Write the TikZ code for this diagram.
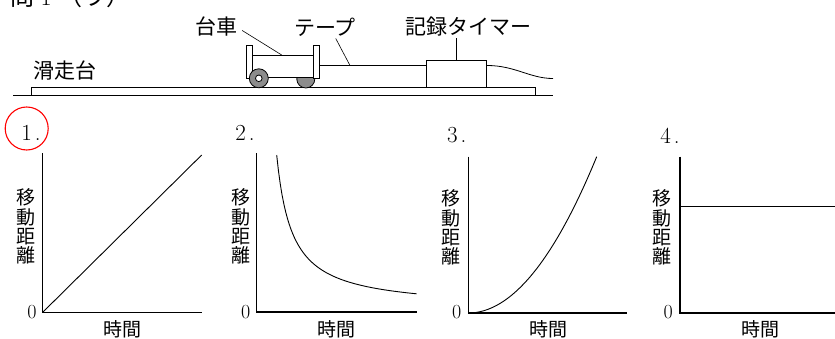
\documentclass[tikz,border=0pt]{standalone}
\usepackage{fontspec}
\newfontfamily\cjk{Noto Sans CJK JP}
\usepackage{tikz}
\usetikzlibrary{calc}
\usetikzlibrary{positioning}
\tikzset{>=latex}
\tikzstyle{lbl} = [inner sep=0pt, font=\cjk\fontsize{21}{21}\selectfont]
\tikzstyle{leader} = [-, line width=0.6pt]
\tikzstyle{part} = [line width=0.8pt, fill=white]
\tikzstyle{wheel} = [line width=0.8pt, fill=black!45]
\tikzstyle{axis} = [-, line width=1.1pt]
\tikzstyle{curve} = [-, line width=0.9pt]
\tikzstyle{ylbl} = [align=center, inner sep=0pt, font=\cjk\fontsize{19}{19.3}\selectfont]
\tikzstyle{xlbl} = [inner sep=0pt, font=\cjk\fontsize{19}{19}\selectfont]
\tikzstyle{num} = [inner sep=0pt, font=\fontsize{23}{23}\selectfont]
\tikzstyle{zero} = [inner sep=0pt, font=\fontsize{20}{20}\selectfont]

\begin{document}
\begin{tikzpicture}[x=1pt, y=-1pt]
\useasboundingbox (0,0) rectangle (835,339);

% heading, cut off at the top
\node [anchor=base west, inner sep=0pt, font=\fontsize{24}{24}\selectfont] (title) at (10,6) {{\cjk 問}\makebox[24pt]{1}{\cjk （ウ）}};

% slide board
\draw [line width=0.8pt] (13,95) -- (553,95);
\draw [line width=0.8pt] (31,95) -- (31,87) -- (535,87) -- (535,95);
\node [lbl] (board) at (65,71) {滑走台};

% cart
\draw [wheel] (305.8,79) circle [radius=9pt];
\draw [part] (252,55) rectangle (313.3,77);
\draw [part] (246.7,45) rectangle (252.3,78);
\draw [part] (313.3,45) rectangle (319,78);
\draw [wheel] (258.8,78.3) circle [radius=9.5pt];
\draw [part] (258.8,78.3) circle [radius=3.3pt];
\coordinate (cartpt) at (281.7,55);
\node [lbl] (cartlbl) at (216,27) {台車};
\draw [leader] ([xshift=5pt,yshift=-3.5pt]cartlbl.east) -- (cartpt);

% tape and timer
\node [part, draw, minimum width=60.7pt, minimum height=27pt, inner sep=0pt] (timer) at (456.3,73.5) {};
\coordinate (tapestart) at (319,65.5);
\coordinate (tapeend) at (553,78.5);
\draw [line width=0.8pt] (tapestart) -- (timer.west |- tapestart);
\draw [line width=0.8pt] (timer.east |- tapestart) .. controls ($(timer.east |- tapestart)+(28,0)$) and ($(tapeend)+(-23,0)$) .. (tapeend);
\coordinate (tapept) at (350,65.5);
\node [lbl] (tapelbl) at (325,27) {テープ};
\draw [leader] ([xshift=10.7pt,yshift=-2pt]tapelbl.south) -- (tapept);
\node [lbl] (timerlbl) at (468,27) {記録タイマー};
\draw [leader] ([yshift=-1.5pt]timerlbl.south -| timer.north) -- (timer.north);

% graph 1
\coordinate (O1) at (42.7,312.3);
\coordinate (Y1) at (42.7,153.5);
\coordinate (X1) at (201.7,312.3);
\coordinate (E1) at (201.7,155);
\draw [axis] (Y1) -- (O1) -- (X1);
\draw [curve] (O1) -- (E1);
\node [num] (num1) at (31,133) {1\hspace{3pt}.};
\node [circle, draw=red, line width=1.1pt, minimum size=43pt, inner sep=0pt] (ring) at (26.7,128.5) {};
\node [ylbl] (dist1) at (25.7,226.5) {移\\動\\距\\離};
\node [zero] (zero1) at (32,312) {0};
\node [xlbl] (time1) at (122.7,329) {時間};

% graph 2
\coordinate (O2) at (256.7,312);
\coordinate (Y2) at (256.7,153.5);
\coordinate (X2) at (416.7,312);
\draw [axis] (Y2) -- (O2) -- (X2);
\draw [curve] plot [domain=20:160, samples=80] ({256.7+\x},{312-3-2359/(\x-4.68)});
\node [num] (num2) at (245,133) {2\hspace{3pt}.};
\node [ylbl] (dist2) at (240.5,226.5) {移\\動\\距\\離};
\node [zero] (zero2) at (245.7,312) {0};
\node [xlbl] (time2) at (336.7,329) {時間};

% graph 3
\coordinate (O3) at (468.3,313);
\coordinate (Y3) at (468.3,156.7);
\coordinate (X3) at (626.7,313);
\coordinate (E3) at (596.7,156.7);
\draw [axis] (Y3) -- (O3) -- (X3);
\draw [curve] (O3) .. controls (511.1,313) and (553.9,260.9) .. (E3);
\node [num] (num3) at (456.7,135.5) {3\hspace{3pt}.};
\node [ylbl] (dist3) at (451,227.5) {移\\動\\距\\離};
\node [zero] (zero3) at (456.7,312.5) {0};
\node [xlbl] (time3) at (548.3,329) {時間};

% graph 4
\coordinate (O4) at (680,313);
\coordinate (Y4) at (680,156.7);
\coordinate (X4) at (835,313);
\coordinate (H4) at (680,206);
\coordinate (H4e) at (835,206);
\draw [axis] (Y4) -- (O4) -- (X4);
\draw [curve] (H4) -- (H4e);
\node [num] (num4) at (670,135.5) {4\hspace{3pt}.};
\node [ylbl] (dist4) at (662.3,227.5) {移\\動\\距\\離};
\node [zero] (zero4) at (668.3,312.5) {0};
\node [xlbl] (time4) at (760,329) {時間};
\end{tikzpicture}
\end{document}
